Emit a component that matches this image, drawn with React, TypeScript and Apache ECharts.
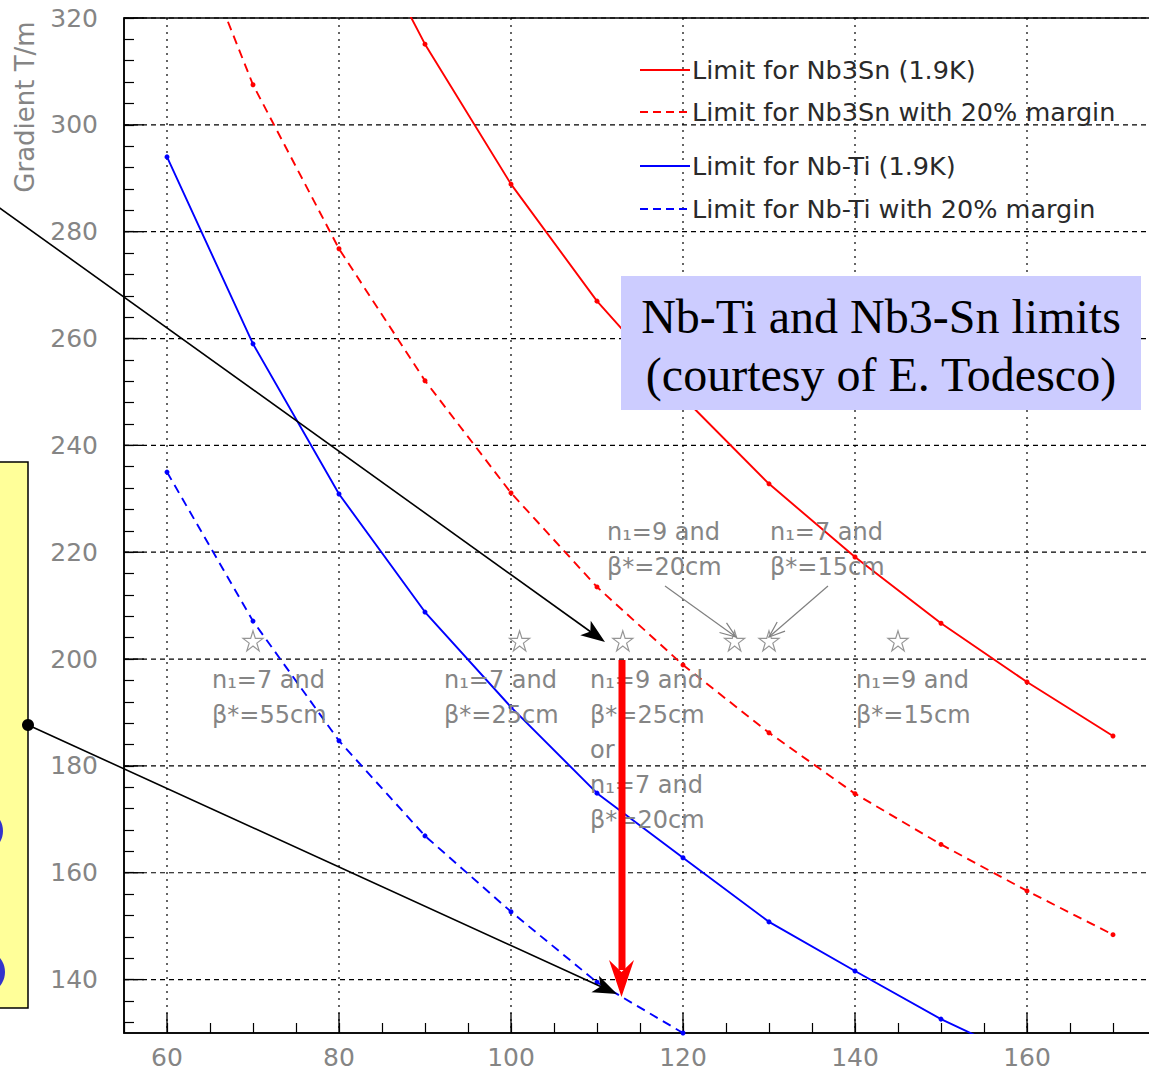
import React, { useEffect, useRef } from "react";
import * as echarts from "echarts";

// ---- data ----
const xMajor = [60, 80, 100, 120, 140, 160, 180];
const xLabels = [60, 80, 100, 120, 140, 160];
const yMajor = [140, 160, 180, 200, 220, 240, 260, 280, 300, 320];
const yMinorTicks: number[] = [];
for (let v = 132; v <= 320; v += 4) yMinorTicks.push(v);

const nb3snX = [80, 90, 100, 110, 120, 130, 140, 150, 160, 170];
const nb3snY = [346, 315.1, 288.9, 267.0, 249, 232.8, 219.1, 206.7, 195.7, 185.6];
const nb3snMarginX = [60, 70, 80, 90, 100, 110, 120, 130, 140, 150, 160, 170];
const nb3snMarginY = [348, 307.5, 276.8, 252.1, 231.1, 213.5, 198.9, 186.2, 174.8, 165.3, 156.6, 148.4];
const nbtiX = [60, 70, 80, 90, 100, 110, 120, 130, 140, 150, 160];
const nbtiY = [294.0, 259.0, 230.9, 208.8, 191.0, 174.9, 162.8, 150.8, 141.6, 132.6, 125];
const nbtiMarginX = [60, 70, 80, 90, 100, 110, 120, 130];
const nbtiMarginY = [235.0, 207.1, 184.7, 166.9, 152.7, 139.5, 130.0, 121];

const starX = [70, 101, 113, 126, 130, 145];
const starY = [203.4, 203.4, 203.4, 203.4, 203.4, 203.4];

const legendLabels = [
  "Limit for Nb3Sn (1.9K)",
  "Limit for Nb3Sn with 20% margin",
  "Limit for Nb-Ti (1.9K)",
  "Limit for Nb-Ti with 20% margin",
];

const SANS = "DejaVu Sans";
const STAR =
  "path://M50,2 L61,36 L97,36 L68,57 L79,92 L50,70 L21,92 L32,57 L3,36 L39,36 Z";

const zip = (xs: number[], ys: number[]) => xs.map((x, i) => [x, ys[i]]);

function arrowHead(tip: number[], from: number[], len: number, halfW: number, notch: number) {
  const dx = tip[0] - from[0];
  const dy = tip[1] - from[1];
  const L = Math.hypot(dx, dy);
  const ux = dx / L, uy = dy / L;
  const bx = tip[0] - ux * len, by = tip[1] - uy * len;
  const nx = -uy, ny = ux;
  return [
    [tip[0], tip[1]],
    [bx + nx * halfW, by + ny * halfW],
    [tip[0] - ux * len * notch, tip[1] - uy * len * notch],
    [bx - nx * halfW, by - ny * halfW],
  ];
}

function openHead(tip: number[], from: number[], len: number, halfW: number) {
  const dx = tip[0] - from[0];
  const dy = tip[1] - from[1];
  const L = Math.hypot(dx, dy);
  const ux = dx / L, uy = dy / L;
  const bx = tip[0] - ux * len, by = tip[1] - uy * len;
  const nx = -uy, ny = ux;
  return [
    [bx + nx * halfW, by + ny * halfW],
    [tip[0], tip[1]],
    [bx - nx * halfW, by - ny * halfW],
  ];
}

function annot(x: number, yFirst: number, lines: string[]) {
  return {
    type: "text",
    x,
    y: yFirst - 17.5,
    z: 80,
    style: {
      text: lines.join("\n"),
      font: `24px '${SANS}'`,
      fill: "#858585",
      lineHeight: 35,
      textAlign: "left",
      textVerticalAlign: "top",
    },
  };
}

export default function App() {
  const ref = useRef<HTMLDivElement>(null);
  useEffect(() => {
    if (!ref.current) return;
    const chart = echarts.init(ref.current, null, { renderer: "svg" });

    const arrow1From = [-10, 201];
    const arrow1Tip = [605, 642];
    const arrow2From = [28, 725];
    const arrow2Tip = [617, 994];
    const gray1From = [665, 586];
    const gray1Tip = [736, 637];
    const gray2From = [828, 586];
    const gray2Tip = [769, 637];

    const legendY = [70, 112, 166, 209];
    const legendColors = ["#ff0000", "#ff0000", "#0000ff", "#0000ff"];
    const legendDash = [false, true, false, true];

    const graphic: any[] = [
      // axis title
      {
        type: "text",
        x: 25,
        y: 107,
        rotation: Math.PI / 2,
        z: 80,
        style: {
          text: "Gradient T/m",
          font: `26px '${SANS}'`,
          fill: "#858585",
          textAlign: "center",
          textVerticalAlign: "middle",
        },
      },
      // yellow box
      {
        type: "rect",
        z: 70,
        shape: { x: -20, y: 462, width: 48, height: 546 },
        style: { fill: "#ffff99", stroke: "#000", lineWidth: 1.5 },
      },
      { type: "circle", z: 71, shape: { cx: -19, cy: 831, r: 22 }, style: { fill: "#3333cc" } },
      { type: "circle", z: 71, shape: { cx: -17, cy: 972, r: 22 }, style: { fill: "#3333cc" } },
      // black arrows
      {
        type: "line",
        z: 90,
        shape: { x1: arrow1From[0], y1: arrow1From[1], x2: arrow1Tip[0] - 12, y2: arrow1Tip[1] - 8.5 },
        style: { stroke: "#000", lineWidth: 1.6 },
      },
      {
        type: "polygon",
        z: 90,
        shape: { points: arrowHead(arrow1Tip, arrow1From, 24, 9, 0.75) },
        style: { fill: "#000" },
      },
      {
        type: "line",
        z: 90,
        shape: { x1: arrow2From[0], y1: arrow2From[1], x2: arrow2Tip[0] - 12, y2: arrow2Tip[1] - 5.5 },
        style: { stroke: "#000", lineWidth: 1.6 },
      },
      {
        type: "polygon",
        z: 90,
        shape: { points: arrowHead(arrow2Tip, arrow2From, 24, 9, 0.75) },
        style: { fill: "#000" },
      },
      { type: "circle", z: 91, shape: { cx: 28, cy: 725, r: 6 }, style: { fill: "#000" } },
      // red vertical arrow
      {
        type: "rect",
        z: 85,
        shape: { x: 618.5, y: 660, width: 7, height: 310 },
        style: { fill: "#ff0000" },
      },
      {
        type: "polygon",
        z: 85,
        shape: { points: [[621.5, 997], [609, 960], [621.5, 972], [634, 960]] },
        style: { fill: "#ff0000" },
      },
      // gray arrows
      {
        type: "line",
        z: 80,
        shape: { x1: gray1From[0], y1: gray1From[1], x2: gray1Tip[0], y2: gray1Tip[1] },
        style: { stroke: "#808080", lineWidth: 1.2 },
      },
      {
        type: "polyline",
        z: 80,
        shape: { points: openHead(gray1Tip, gray1From, 16, 6) },
        style: { stroke: "#808080", lineWidth: 1.2, fill: "none" },
      },
      {
        type: "line",
        z: 80,
        shape: { x1: gray2From[0], y1: gray2From[1], x2: gray2Tip[0], y2: gray2Tip[1] },
        style: { stroke: "#808080", lineWidth: 1.2 },
      },
      {
        type: "polyline",
        z: 80,
        shape: { points: openHead(gray2Tip, gray2From, 16, 6) },
        style: { stroke: "#808080", lineWidth: 1.2, fill: "none" },
      },
      // annotations
      annot(212, 680, ["n₁=7 and", "β*=55cm"]),
      annot(444, 680, ["n₁=7 and", "β*=25cm"]),
      annot(590, 680, ["n₁=9 and", "β*=25cm", "or", "n₁=7 and", "β*=20cm"]),
      annot(856, 680, ["n₁=9 and", "β*=15cm"]),
      annot(607, 532, ["n₁=9 and", "β*=20cm"]),
      annot(770, 532, ["n₁=7 and", "β*=15cm"]),
      // lavender box
      {
        type: "rect",
        z: 95,
        shape: { x: 621, y: 276, width: 520, height: 134 },
        style: { fill: "#ccccff" },
      },
      {
        type: "text",
        x: 881,
        y: 345,
        z: 96,
        style: {
          text: "Nb-Ti and Nb3-Sn limits\n(courtesy of E. Todesco)",
          font: "48px 'Liberation Serif'",
          fill: "#000",
          lineHeight: 58,
          textAlign: "center",
          textVerticalAlign: "middle",
        },
      },
    ];

    legendLabels.forEach((lab, i) => {
      graphic.push({
        type: "line",
        z: 80,
        shape: { x1: 640, y1: legendY[i], x2: 690, y2: legendY[i] },
        style: {
          stroke: legendColors[i],
          lineWidth: 2.2,
          lineDash: legendDash[i] ? [8, 5] : null,
        },
      });
      graphic.push({
        type: "text",
        x: 692,
        y: legendY[i],
        z: 80,
        style: {
          text: lab,
          font: `25.5px '${SANS}'`,
          fill: "#2a2a2a",
          textAlign: "left",
          textVerticalAlign: "middle",
        },
      });
    });

    const lineSeries = (name: string, data: number[][], color: string, dashed: boolean) => ({
      name,
      type: "line",
      data,
      clip: true,
      symbol: "circle",
      symbolSize: 5,
      showSymbol: true,
      z: 5,
      itemStyle: { color },
      lineStyle: { color, width: 1.9, type: dashed ? [9, 6] : "solid" },
    });

    chart.setOption({
      animation: false,
      backgroundColor: "#ffffff",
      textStyle: { fontFamily: SANS },
      grid: {
        left: 124,
        top: 18,
        width: 1075,
        height: 1015,
        show: true,
        borderColor: "#000",
        borderWidth: 1.5,
        backgroundColor: "transparent",
      },
      xAxis: {
        type: "value",
        min: 55,
        max: 180,
        interval: 5,
        axisLine: { show: true, lineStyle: { color: "#000", width: 1.5 } },
        axisTick: { show: true, inside: true, length: 10, lineStyle: { color: "#000", width: 1.2 } },
        axisLabel: {
          color: "#858585",
          fontSize: 25,
          fontFamily: SANS,
          margin: 12,
          customValues: xLabels,
        },
        splitLine: { show: false },
      },
      yAxis: {
        type: "value",
        min: 130,
        max: 320,
        axisLine: { show: true, lineStyle: { color: "#000", width: 1.5 } },
        axisTick: {
          show: true,
          inside: true,
          length: 10,
          customValues: yMinorTicks,
          lineStyle: { color: "#000", width: 1.2 },
        },
        axisLabel: {
          color: "#858585",
          fontSize: 25,
          fontFamily: SANS,
          margin: 26,
          customValues: yMajor,
        },
        splitLine: { show: false },
      },
      series: [
        {
          type: "custom",
          name: "xgrid",
          z: 1,
          silent: true,
          clip: false,
          data: xMajor.map((v) => [v, 130]),
          renderItem: (params: any, api: any) => {
            const x = api.value(0);
            const top = api.coord([x, 320]);
            const bot = api.coord([x, 130]);
            return {
              type: "group",
              children: [
                {
                  type: "line",
                  shape: { x1: top[0], y1: top[1], x2: bot[0], y2: bot[1] },
                  style: { stroke: "#000", lineWidth: 1.2, lineDash: [2, 5] },
                },
                {
                  type: "line",
                  shape: { x1: bot[0], y1: bot[1], x2: bot[0], y2: bot[1] - 20 },
                  style: { stroke: "#000", lineWidth: 1.3 },
                },
              ],
            };
          },
        },
        {
          type: "custom",
          name: "ygrid",
          z: 1,
          silent: true,
          clip: false,
          data: yMajor.map((v) => [55, v]),
          renderItem: (params: any, api: any) => {
            const y = api.value(1);
            const l = api.coord([55, y]);
            const r = api.coord([180, y]);
            return {
              type: "group",
              children: [
                {
                  type: "line",
                  shape: { x1: l[0], y1: l[1], x2: r[0], y2: r[1] },
                  style: { stroke: "#000", lineWidth: 1.2, lineDash: [5, 4] },
                },
                {
                  type: "line",
                  shape: { x1: l[0], y1: l[1], x2: l[0] + 20, y2: l[1] },
                  style: { stroke: "#000", lineWidth: 1.3 },
                },
              ],
            };
          },
        },
        lineSeries(legendLabels[0], zip(nb3snX, nb3snY), "#ff0000", false),
        lineSeries(legendLabels[1], zip(nb3snMarginX, nb3snMarginY), "#ff0000", true),
        lineSeries(legendLabels[2], zip(nbtiX, nbtiY), "#0000ff", false),
        lineSeries(legendLabels[3], zip(nbtiMarginX, nbtiMarginY), "#0000ff", true),
        {
          type: "scatter",
          name: "stars",
          z: 6,
          data: zip(starX, starY),
          symbol: STAR,
          symbolSize: 20,
          itemStyle: { color: "rgba(0,0,0,0)", borderColor: "#7a7a7a", borderWidth: 1.2 },
        },
      ],
      graphic,
    });

    return () => chart.dispose();
  }, []);

  return (
    <div
      style={{
        position: "fixed",
        left: 0,
        top: 0,
        width: 1149,
        height: 1072,
        overflow: "hidden",
        background: "#fff",
      }}
    >
      <div ref={ref} style={{ width: 1220, height: 1072 }} />
    </div>
  );
}
